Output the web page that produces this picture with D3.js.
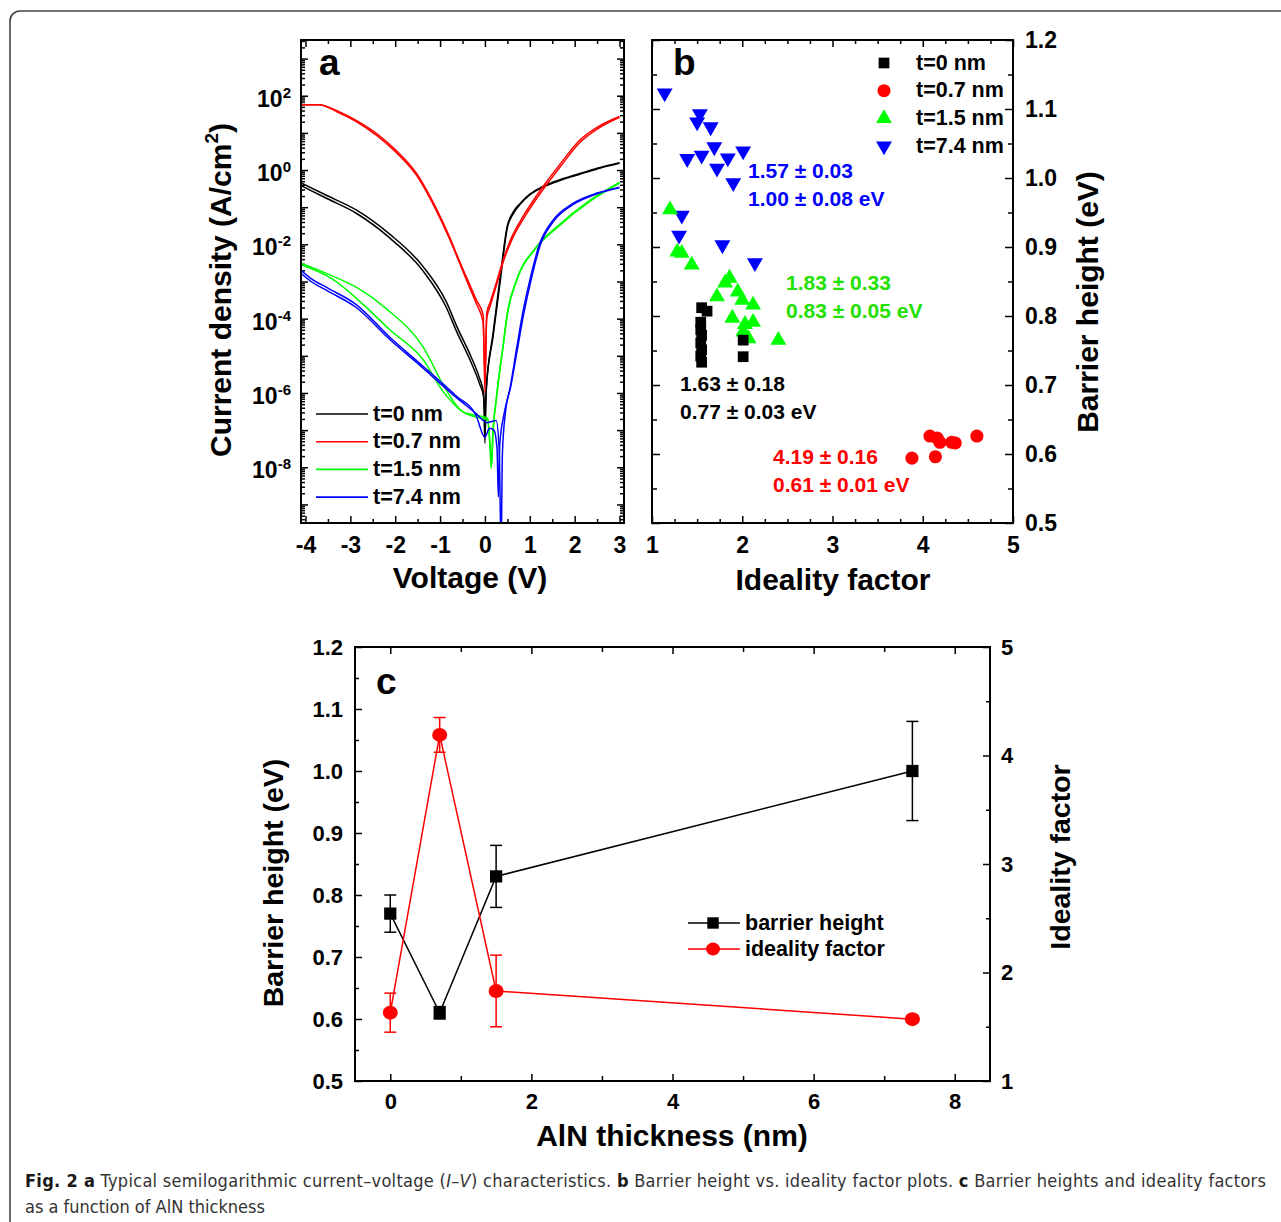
<!DOCTYPE html>
<html>
<head>
<meta charset="utf-8">
<script src="https://cdn.jsdelivr.net/npm/d3@7"></script>
<style>
body { margin: 0; background: #fff; }
svg { display: block; }
</style>
</head>
<body>
<svg id="fig" width="1281" height="1222"></svg>
<script>
// ---- panel a : I-V sweeps, [voltage, log10 J]
var ivT0A = [[-4.1,-0.42],[-3.5,-0.78],[-2.86,-1.17],[-2.13,-1.82],[-1.39,-2.70],[-0.86,-3.70],[-0.63,-4.35],[-0.3,-5.2],[-0.12,-5.75],[-0.03,-6.1],[0,-7.35],[0.03,-5.93],[0.18,-4.4],[0.33,-2.97],[0.5,-1.5],[0.62,-1.15],[0.8,-0.88],[1.0,-0.65],[1.28,-0.45],[1.7,-0.25],[2.1,-0.1],[2.5,0.05],[3.0,0.2]]
var ivT0B = [[-4.1,-0.35],[-3.5,-0.7],[-2.86,-1.08],[-2.13,-1.72],[-1.39,-2.58],[-0.86,-3.55],[-0.63,-4.2],[-0.3,-5.05],[-0.12,-5.6],[-0.03,-6.0],[0,-6.6],[0.03,-5.85],[0.18,-4.5],[0.34,-3.0],[0.5,-1.55],[0.63,-1.18],[0.8,-0.9],[1.0,-0.67],[1.28,-0.47],[1.7,-0.27],[2.1,-0.12],[2.5,0.03],[3.0,0.18]]
var ivT07A = [[-4.1,1.76],[-3.7,1.76],[-3.3,1.6],[-2.86,1.33],[-2.4,0.97],[-2.0,0.55],[-1.52,-0.10],[-1.1,-1.0],[-0.79,-1.8],[-0.55,-2.5],[-0.38,-2.97],[-0.19,-3.5],[-0.04,-3.9],[0,-6.0],[0.04,-3.85],[0.12,-3.55],[0.27,-2.97],[0.4,-2.44],[0.6,-1.8],[0.85,-1.25],[1.28,-0.47],[1.7,0.2],[2.1,0.79],[2.5,1.15],[3.0,1.44]]
var ivT07B = [[-4.1,1.76],[-3.7,1.76],[-3.3,1.57],[-2.86,1.30],[-2.4,0.92],[-2.0,0.5],[-1.52,-0.15],[-1.1,-1.05],[-0.79,-1.85],[-0.55,-2.55],[-0.38,-3.05],[-0.19,-3.6],[-0.04,-4.1],[0,-5.5],[0.04,-4.0],[0.12,-3.65],[0.27,-3.05],[0.4,-2.5],[0.6,-1.88],[0.85,-1.33],[1.28,-0.55],[1.7,0.12],[2.1,0.72],[2.5,1.1],[3.0,1.42]]
var ivT15A = [[-4.1,-2.51],[-3.5,-2.8],[-2.86,-3.16],[-2.2,-3.73],[-1.38,-4.76],[-0.86,-5.93],[-0.49,-6.51],[-0.2,-6.6],[0.06,-6.68],[0.12,-7.6],[0.14,-8.03],[0.17,-7.2],[0.25,-6.2],[0.4,-4.76],[0.51,-3.78],[0.7,-2.97],[1.14,-2.08],[1.59,-1.54],[2.33,-0.82],[3.0,-0.33]]
var ivT15B = [[-4.1,-2.55],[-3.38,-2.95],[-2.65,-3.69],[-2.12,-4.3],[-1.38,-5.1],[-0.94,-5.95],[-0.5,-6.5],[-0.2,-6.65],[0.06,-6.72],[0.12,-7.5],[0.15,-7.9],[0.18,-7.1],[0.26,-6.1],[0.4,-4.8],[0.51,-3.82],[0.7,-3.0],[1.14,-2.1],[1.59,-1.57],[2.33,-0.85],[3.0,-0.35]]
var ivT74A = [[-4.1,-2.70],[-3.9,-2.9],[-3.5,-3.18],[-2.87,-3.62],[-2.12,-4.5],[-1.38,-5.28],[-0.64,-6.08],[-0.2,-6.6],[0,-7.19],[0.1,-6.95],[0.2,-7.0],[0.27,-7.5],[0.3,-8.8],[0.33,-7.4],[0.42,-6.6],[0.55,-5.93],[0.7,-4.85],[0.84,-3.86],[1.0,-2.97],[1.22,-1.98],[1.51,-1.36],[1.96,-0.9],[2.5,-0.62],[3.0,-0.46]]
var ivT74B = [[-4.1,-2.78],[-3.9,-2.98],[-3.5,-3.26],[-2.87,-3.7],[-2.12,-4.56],[-1.38,-5.33],[-0.64,-6.12],[-0.2,-6.55],[0.05,-6.8],[0.25,-6.74],[0.32,-7.6],[0.36,-10.2],[0.39,-7.6],[0.46,-6.5],[0.58,-5.8],[0.72,-4.85],[0.86,-3.9],[1.02,-3.0],[1.24,-2.0],[1.53,-1.38],[1.98,-0.92],[2.5,-0.64],[3.0,-0.48]]

var voltTicks = [-4,-3,-2,-1,0,1,2,3]
var decadeLabels = [-8,-6,-4,-2,0,2]
var seriesNames = ["t=0 nm","t=0.7 nm","t=1.5 nm","t=7.4 nm"]
var seriesColors = ["#000000","#ff0000","#00ff00","#0000ff"]

// ---- panel b : ideality factor n vs barrier height (eV)
var nT0 = [1.55,1.61,1.54,1.54,1.55,1.54,1.55,1.54,1.55,2.01,2.01]
var phiT0 = [0.812,0.807,0.791,0.780,0.772,0.761,0.751,0.742,0.733,0.765,0.741]
var nT07 = [3.88,4.08,4.16,4.19,4.32,4.36,4.14,4.60]
var phiT07 = [0.594,0.626,0.623,0.617,0.617,0.616,0.596,0.626]
var nT15 = [1.20,1.28,1.33,1.44,1.86,1.81,1.72,1.95,2.00,2.12,1.89,2.03,2.12,2.01,2.07,2.40]
var phiT15 = [0.954,0.893,0.891,0.874,0.855,0.848,0.828,0.835,0.823,0.816,0.797,0.788,0.791,0.777,0.767,0.765]
var nT74 = [1.14,1.53,1.50,1.65,1.69,1.39,1.55,1.84,2.01,1.72,1.90,1.33,1.30,1.78,2.14]
var phiT74 = [1.123,1.093,1.081,1.074,1.045,1.028,1.033,1.029,1.039,1.014,0.993,0.946,0.917,0.903,0.877]
var statLines = [["1.57 ± 0.03","1.00 ± 0.08 eV"],["1.83 ± 0.33","0.83 ± 0.05 eV"],["1.63 ± 0.18","0.77 ± 0.03 eV"],["4.19 ± 0.16","0.61 ± 0.01 eV"]]

// ---- panel c : averages vs AlN thickness
var thickness = [0, 0.7, 1.5, 7.4]
var barrier = [0.77, 0.61, 0.83, 1.00]
var barrierErr = [0.03, 0.01, 0.05, 0.08]
var ideality = [1.63, 4.19, 1.83, 1.57]
var idealityErr = [0.18, 0.16, 0.33, 0.03]

var FONT = "'Liberation Sans', Arial, Helvetica, sans-serif"
var CAPFONT = "'DejaVu Sans Condensed', 'Liberation Sans Narrow', 'Noto Sans', sans-serif"
var svg = d3.select("#fig")

svg.append("rect").attr("width", 1281).attr("height", 1222).attr("fill", "#fff")
svg.append("rect").attr("x", 10).attr("y", 11).attr("width", 1300).attr("height", 1260)
    .attr("rx", 10).attr("fill", "none").attr("stroke", "#444").attr("stroke-width", 1.6)

// draws inward ticks along one frame edge
var edgeTicks = function(axisFn, scale, values, len, tx, ty)
{
    svg.append("g")
        .attr("transform", "translate(" + tx + "," + ty + ")")
        .call(axisFn(scale).tickValues(values).tickSize(-len).tickFormat(""))
        .call(function(g) { g.select(".domain").remove() })
        .selectAll("line").attr("stroke", "#000").attr("stroke-width", 1.5)
}

var labels = function(axisFn, scale, values, fmt, tx, ty, pad, size)
{
    var g = svg.append("g")
        .attr("transform", "translate(" + tx + "," + ty + ")")
        .call(axisFn(scale).tickValues(values).tickSize(0).tickPadding(pad).tickFormat(fmt))
    g.select(".domain").remove()
    g.selectAll("text").attr("font-family", FONT).attr("font-weight", "bold")
        .attr("font-size", size).attr("fill", "#000")
    return g
}

var frame = function(x0, y0, x1, y1)
{
    svg.append("rect").attr("x", x0).attr("y", y0).attr("width", x1 - x0).attr("height", y1 - y0)
        .attr("fill", "none").attr("stroke", "#000").attr("stroke-width", 2)
}

var title = function(txt, x, y, rot, size)
{
    var t = svg.append("text")
        .attr("font-family", FONT).attr("font-weight", "bold").attr("font-size", size)
        .attr("text-anchor", "middle").attr("dominant-baseline", "middle")
        .attr("transform", "translate(" + x + "," + y + ")" + (rot ? " rotate(-90)" : ""))
    return t.text(txt)
}

var plain = function(txt, x, y, size, color, anchor)
{
    return svg.append("text").attr("x", x).attr("y", y)
        .attr("font-family", FONT).attr("font-weight", "bold").attr("font-size", size)
        .attr("fill", color).attr("text-anchor", anchor || "start")
        .attr("dominant-baseline", "middle").text(txt)
}

// ================= panel a =================
var aL = 301, aR = 624, aT = 40, aB = 523
var xA = d3.scaleLinear().domain([-4.1, 3.1]).range([aL, aR])
var yA = d3.scaleLog().domain([Math.pow(10, -9.5), Math.pow(10, 3.5)]).range([aB, aT])

svg.append("clipPath").attr("id", "clipA").append("rect")
    .attr("x", aL).attr("y", aT).attr("width", aR - aL).attr("height", aB - aT)

var majorDec = [], minorDec = []
for (var e = -10; e <= 3; e++) {
    majorDec.push(Math.pow(10, e))
    for (var m = 2; m <= 9; m++) minorDec.push(m * Math.pow(10, e))
}
majorDec = majorDec.filter(function(v) { return v >= yA.domain()[0] && v <= yA.domain()[1] })
minorDec = minorDec.filter(function(v) { return v >= yA.domain()[0] && v <= yA.domain()[1] })
var halfV = voltTicks.slice(0, -1).map(function(v) { return v + 0.5 })

edgeTicks(d3.axisBottom, xA, voltTicks, 7, 0, aB)
edgeTicks(d3.axisBottom, xA, halfV, 4, 0, aB)
edgeTicks(d3.axisTop, xA, voltTicks, 7, 0, aT)
edgeTicks(d3.axisTop, xA, halfV, 4, 0, aT)
edgeTicks(d3.axisLeft, yA, majorDec, 7, aL, 0)
edgeTicks(d3.axisLeft, yA, minorDec, 4, aL, 0)
edgeTicks(d3.axisRight, yA, majorDec, 7, aR, 0)
edgeTicks(d3.axisRight, yA, minorDec, 4, aR, 0)

var lineA = d3.line()
    .x(function(d) { return xA(d[0]) })
    .y(function(d) { return yA(Math.pow(10, d[1])) })
    .curve(d3.curveMonotoneX)

var curvesA = [[ivT0A, ivT0B], [ivT07A, ivT07B], [ivT15A, ivT15B], [ivT74A, ivT74B]]
var gA = svg.append("g").attr("clip-path", "url(#clipA)")
curvesA.forEach(function(pair, i) {
    pair.forEach(function(sweep) {
        gA.append("path").datum(sweep)
            .attr("fill", "none").attr("stroke", seriesColors[i]).attr("stroke-width", 1.5)
            .attr("d", lineA)
    })
})
frame(aL, aT, aR, aB)

labels(d3.axisBottom, xA, voltTicks, d3.format("d"), 0, aB, 14, 23)
    .selectAll("text").text(function(d) { return d < 0 ? "-" + Math.abs(d) : d })

var ylab = labels(d3.axisLeft, yA, decadeLabels.map(function(e) { return Math.pow(10, e) }),
    function() { return "" }, aL, 0, 10, 23)
ylab.selectAll("text").each(function(d) {
    var t = d3.select(this)
    var ex = Math.round(Math.log10(d))
    t.attr("dy", "0.45em")
    t.append("tspan").text("10")
    t.append("tspan").attr("dy", "-0.6em").attr("font-size", 15).text(ex < 0 ? "-" + Math.abs(ex) : ex)
})

svg.append("text").attr("transform", "translate(231,290) rotate(-90)")
    .attr("font-family", FONT).attr("font-weight", "bold").attr("font-size", 30)
    .attr("text-anchor", "middle")
    .call(function(t) {
        t.append("tspan").text("Current density (A/cm")
        t.append("tspan").attr("dy", -13).attr("font-size", 19).text("2")
        t.append("tspan").attr("dy", 13).text(")")
    })
title("Voltage (V)", 470, 580, false, 30)
plain("a", 319, 65, 37, "#000")

seriesNames.forEach(function(name, i) {
    var yy = 414 + i * 27.7
    svg.append("line").attr("x1", 316).attr("x2", 368).attr("y1", yy).attr("y2", yy)
        .attr("stroke", seriesColors[i]).attr("stroke-width", 1.6)
    plain(name, 373, yy + 1, 21.5, "#000")
})

// ================= panel b =================
var bL = 652, bR = 1013, bT = 40, bB = 523
var xB = d3.scaleLinear().domain([1, 5]).range([bL, bR])
var yB = d3.scaleLinear().domain([0.5, 1.2]).range([bB, bT])

var nMajor = [1, 2, 3, 4, 5], nMinor = d3.range(1.25, 5, 0.25).filter(function(v) { return v % 1 !== 0 })
var phiMajor = d3.range(0.5, 1.21, 0.1), phiMinor = d3.range(0.55, 1.2, 0.1)
edgeTicks(d3.axisBottom, xB, nMajor, 7, 0, bB)
edgeTicks(d3.axisBottom, xB, nMinor, 4, 0, bB)
edgeTicks(d3.axisTop, xB, nMajor, 7, 0, bT)
edgeTicks(d3.axisTop, xB, nMinor, 4, 0, bT)
edgeTicks(d3.axisLeft, yB, phiMajor, 8, bL, 0)
edgeTicks(d3.axisLeft, yB, phiMinor, 5, bL, 0)
edgeTicks(d3.axisRight, yB, phiMajor, 8, bR, 0)
edgeTicks(d3.axisRight, yB, phiMinor, 5, bR, 0)
frame(bL, bT, bR, bB)

var symSquare = d3.symbol().type(d3.symbolSquare).size(115)
var symCircle = d3.symbol().type(d3.symbolCircle).size(135)
var symTri = d3.symbol().type(d3.symbolTriangle).size(110)

var scatter = function(ns, phis, sym, color, rot)
{
    svg.append("g").selectAll("path")
        .data(ns.map(function(n, i) { return [n, phis[i]] }))
        .enter().append("path")
        .attr("d", sym).attr("fill", color)
        .attr("transform", function(d) {
            return "translate(" + xB(d[0]) + "," + yB(d[1]) + ")" + (rot ? " rotate(180)" : "")
        })
}
scatter(nT74, phiT74, symTri, "#0000ff", true)
scatter(nT15, phiT15, symTri, "#00ff00", false)
scatter(nT0, phiT0, symSquare, "#000000", false)
scatter(nT07, phiT07, symCircle, "#ff0000", false)

labels(d3.axisBottom, xB, nMajor, d3.format("d"), 0, bB, 14, 23)
labels(d3.axisRight, yB, phiMajor, d3.format(".1f"), bR, 0, 12, 23)
title("Ideality factor", 833, 582, false, 30)
title("Barrier height (eV)", 1090, 302, true, 30)
plain("b", 673, 65, 37, "#000")

var legSyms = [[symSquare, false], [symCircle, false], [symTri, false], [symTri, true]]
seriesNames.forEach(function(name, i) {
    var yy = 63 + i * 27.7
    svg.append("path").attr("d", legSyms[i][0]).attr("fill", seriesColors[i])
        .attr("transform", "translate(884," + yy + ")" + (legSyms[i][1] ? " rotate(180)" : ""))
    plain(name, 916, yy + 1, 21.5, "#000")
})

var statPos = [[748, 172, "#0000ff"], [786, 284, "#22e000"], [680, 385, "#000000"], [773, 458, "#ff0000"]]
statLines.forEach(function(lines, i) {
    plain(lines[0], statPos[i][0], statPos[i][1], 21, statPos[i][2])
    plain(lines[1], statPos[i][0], statPos[i][1] + 28, 21, statPos[i][2])
})

// ================= panel c =================
var cL = 355, cR = 990, cT = 647, cB = 1081
var xC = d3.scaleLinear().domain([-0.5, 8.5]).range([cL, cR])
var yC = d3.scaleLinear().domain([0.5, 1.2]).range([cB, cT])
var yC2 = d3.scaleLinear().domain([1, 5]).range([cB, cT])

var tMajor = [0, 2, 4, 6, 8], tMinor = [1, 3, 5, 7]
edgeTicks(d3.axisBottom, xC, tMajor, 7, 0, cB)
edgeTicks(d3.axisBottom, xC, tMinor, 5, 0, cB)
edgeTicks(d3.axisTop, xC, tMajor, 7, 0, cT)
edgeTicks(d3.axisTop, xC, tMinor, 5, 0, cT)
edgeTicks(d3.axisLeft, yC, phiMajor, 7, cL, 0)
edgeTicks(d3.axisLeft, yC, phiMinor, 4, cL, 0)
edgeTicks(d3.axisRight, yC2, [1, 2, 3, 4, 5], 7, cR, 0)
edgeTicks(d3.axisRight, yC2, [1.5, 2.5, 3.5, 4.5], 4, cR, 0)
frame(cL, cT, cR, cB)

var errBars = function(vals, errs, scale, color)
{
    var g = svg.append("g").attr("stroke", color).attr("stroke-width", 1.5)
    thickness.forEach(function(t, i) {
        var x = xC(t), y0 = scale(vals[i] - errs[i]), y1 = scale(vals[i] + errs[i])
        g.append("line").attr("x1", x).attr("x2", x).attr("y1", y0).attr("y2", y1)
        g.append("line").attr("x1", x - 6).attr("x2", x + 6).attr("y1", y0).attr("y2", y0)
        g.append("line").attr("x1", x - 6).attr("x2", x + 6).attr("y1", y1).attr("y2", y1)
    })
}

var lineC = function(vals, scale)
{
    return d3.line().x(function(d, i) { return xC(thickness[i]) }).y(function(d) { return scale(d) })(vals)
}

errBars(barrier, barrierErr, yC, "#000")
svg.append("path").attr("d", lineC(barrier, yC)).attr("fill", "none").attr("stroke", "#000").attr("stroke-width", 1.5)
svg.append("g").selectAll("path").data(barrier).enter().append("path")
    .attr("d", d3.symbol().type(d3.symbolSquare).size(150)).attr("fill", "#000")
    .attr("transform", function(d, i) { return "translate(" + xC(thickness[i]) + "," + yC(d) + ")" })

errBars(ideality, idealityErr, yC2, "#ff0000")
svg.append("path").attr("d", lineC(ideality, yC2)).attr("fill", "none").attr("stroke", "#ff0000").attr("stroke-width", 1.5)
svg.append("g").selectAll("ellipse").data(ideality).enter().append("ellipse")
    .attr("cx", function(d, i) { return xC(thickness[i]) }).attr("cy", function(d) { return yC2(d) })
    .attr("rx", 7.5).attr("ry", 7).attr("fill", "#ff0000")

labels(d3.axisBottom, xC, tMajor, d3.format("d"), 0, cB, 12, 22)
labels(d3.axisLeft, yC, phiMajor, d3.format(".1f"), cL, 0, 12, 22)
labels(d3.axisRight, yC2, [1, 2, 3, 4, 5], d3.format("d"), cR, 0, 11, 22)
title("AlN thickness (nm)", 672, 1138, false, 30)
title("Barrier height (eV)", 275, 883, true, 28.5)
title("Ideality factor", 1062, 857, true, 28.5)
plain("c", 376, 684, 37, "#000")

var legC = [["barrier height", "#000", "square"], ["ideality factor", "#ff0000", "circle"]]
legC.forEach(function(l, i) {
    var yy = 923 + i * 26
    svg.append("line").attr("x1", 688).attr("x2", 740).attr("y1", yy).attr("y2", yy)
        .attr("stroke", l[1]).attr("stroke-width", 1.5)
    if (l[2] === "square")
        svg.append("path").attr("d", d3.symbol().type(d3.symbolSquare).size(130))
            .attr("transform", "translate(713," + yy + ")").attr("fill", l[1])
    else
        svg.append("ellipse").attr("cx", 713).attr("cy", yy).attr("rx", 7).attr("ry", 6.5).attr("fill", l[1])
    plain(l[0], 745, yy + 1, 21.5, "#000")
})

// ================= caption =================
var cap1 = svg.append("text").attr("x", 25).attr("y", 1187)
    .attr("font-family", CAPFONT).attr("font-size", 18).attr("fill", "#333")
    .attr("textLength", 1241).attr("lengthAdjust", "spacing")
var capParts = [["Fig. 2 a", "bold", "normal"], [" Typical semilogarithmic current–voltage (", "normal", "normal"],
    ["I", "normal", "italic"], ["–", "normal", "normal"], ["V", "normal", "italic"],
    [") characteristics. ", "normal", "normal"], ["b", "bold", "normal"],
    [" Barrier height vs. ideality factor plots. ", "normal", "normal"], ["c", "bold", "normal"],
    [" Barrier heights and ideality factors", "normal", "normal"]]
capParts.forEach(function(p) {
    cap1.append("tspan").attr("font-weight", p[1]).attr("font-style", p[2])
        .attr("fill", p[1] === "bold" ? "#1a1a1a" : "#333").text(p[0])
})
svg.append("text").attr("x", 25).attr("y", 1213)
    .attr("font-family", CAPFONT).attr("font-size", 18).attr("fill", "#333")
    .text("as a function of AlN thickness")
</script>
</body>
</html>
